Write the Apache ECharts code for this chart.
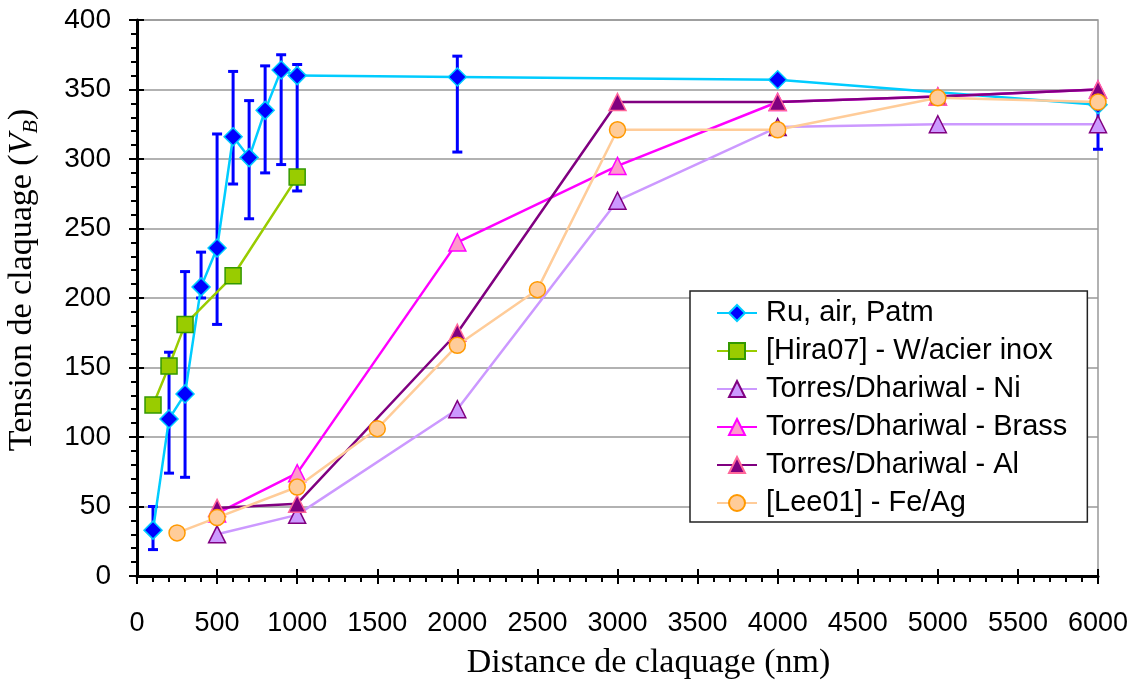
<!DOCTYPE html>
<html><head><meta charset="utf-8">
<script src="https://cdn.jsdelivr.net/npm/echarts@6/dist/echarts.min.js"></script>
<style>html,body{margin:0;padding:0;background:#fff}#c{width:1139px;height:682px}</style>
</head><body><div id="c"></div>
<script>
// ---- data ----
const xTicks = [0,500,1000,1500,2000,2500,3000,3500,4000,4500,5000,5500,6000];
const yTicks = [0,50,100,150,200,250,300,350,400];

const ruX = [100,200,300,400,500,600,700,800,900,1000,2000,4000,6000];
const ruY = [33,113,131,208,236,316,301,335,364,360,359,357,339];
const ruErrLow  = [19,74,71,200,181,282,257,290,296,277,305,null,307];
const ruErrHigh = [50,161,219,233,318,363,342,367,375,368,374,null,339];

const hiraX = [100,200,300,600,1000];
const hiraY = [123,151,181,216,287];

const niX = [500,1000,2000,3000,4000,5000,6000];
const niY = [30,44,120,270,323,325,325];

const brassX = [500,1000,2000,3000,4000,5000,6000];
const brassY = [45,74,240,295,341,345,350];

const alX = [500,1000,2000,3000,4000,5000,6000];
const alY = [49,52,175,341,341,345,350];

const leeX = [250,500,1000,1500,2000,2500,3000,4000,5000,6000];
const leeY = [31,42,64,106,166,206,321,321,344,341];

const names = ['Ru, air, Patm','[Hira07] - W/acier inox','Torres/Dhariwal - Ni','Torres/Dhariwal - Brass','Torres/Dhariwal - Al','[Lee01] - Fe/Ag'];

// ---- chart ----
const zip = (xs, ys) => xs.map((x, i) => [x, ys[i]]);
const errData = [];
ruX.forEach((x, i) => { if (ruErrLow[i] != null) errData.push([x, ruErrLow[i], ruErrHigh[i]]); });

function lineSeries(name, data, lineColor, fill, border, symbol, size, z) {
  return {
    name, type: 'line', data, z,
    symbol, symbolSize: size, showSymbol: true,
    lineStyle: { color: lineColor, width: 2.5 },
    itemStyle: { color: fill, borderColor: border, borderWidth: 1.5 },
    emphasis: { disabled: true }, animation: false
  };
}

const serif = '"Liberation Serif","Times New Roman",serif';
const sans = '"Liberation Sans",Arial,sans-serif';

const option = {
  animation: false,
  backgroundColor: '#fff',
  grid: { left: 137, right: 41, top: 20, bottom: 106, show: true, borderColor: '#999', borderWidth: 1.5,
    containLabel: false, outerBoundsMode: 'none' },
  xAxis: [{
    type: 'value', min: 0, max: 6000, interval: 500, position: 'bottom',
    axisLine: { show: true, onZero: false, lineStyle: { color: '#000', width: 3 } },
    axisTick: { show: true, length: 8, lineStyle: { color: '#000', width: 2 } },
    minorTick: { show: true, splitNumber: 5, length: 6, lineStyle: { color: '#000', width: 2 } },
    splitLine: { show: false },
    axisLabel: { margin: 34, fontSize: 27, color: '#000', fontFamily: sans,
      formatter: v => xTicks.includes(v) ? String(v) : '' },
    name: 'Distance de claquage (nm)', nameLocation: 'middle', nameGap: 70,
    nameTextStyle: { fontFamily: serif, fontSize: 34, color: '#000', padding: [0, 0, 0, 62] }
  }, {
    type: 'value', min: 0, max: 6000, interval: 500, position: 'bottom',
    axisLine: { show: false }, axisLabel: { show: false }, splitLine: { show: false },
    axisTick: { show: true, inside: true, length: 7, lineStyle: { color: '#000', width: 2 } }
  }],
  yAxis: [{
    type: 'value', min: 0, max: 400, interval: 50, position: 'left',
    axisLine: { show: true, onZero: false, lineStyle: { color: '#000', width: 3 } },
    axisTick: { show: true, length: 8, lineStyle: { color: '#000', width: 2 } },
    minorTick: { show: true, splitNumber: 5, length: 6, lineStyle: { color: '#000', width: 2 } },
    splitLine: { show: true, lineStyle: { color: '#999', width: 1.5 } },
    axisLabel: { margin: 26, fontSize: 28, color: '#000', fontFamily: sans,
      formatter: v => yTicks.includes(v) ? String(v) : '' },
    name: '{t|Tension de claquage (}{v|V}{b|B}{t|)}', nameLocation: 'middle', nameGap: 95,
    nameTextStyle: {
      color: '#000', padding: [0, 0, 0, 36],
      rich: {
        t: { fontFamily: serif, fontSize: 34, color: '#000', lineHeight: 40 },
        v: { fontFamily: serif, fontSize: 34, fontStyle: 'italic', color: '#000', lineHeight: 40 },
        b: { fontFamily: serif, fontSize: 22, fontStyle: 'italic', color: '#000', lineHeight: 40, verticalAlign: 'bottom', padding: [12, 0, 0, 0] }
      }
    }
  }, {
    type: 'value', min: 0, max: 400, interval: 50, position: 'left',
    axisLine: { show: false }, axisLabel: { show: false }, splitLine: { show: false },
    axisTick: { show: true, inside: true, length: 7, lineStyle: { color: '#000', width: 2 } }
  }],
  legend: {
    orient: 'vertical', left: 690, top: 291,
    backgroundColor: '#fff', borderColor: '#222', borderWidth: 1.5,
    padding: [7, 20, 4, 26], itemGap: 8, itemWidth: 40, itemHeight: 20,
    textStyle: { fontFamily: sans, fontSize: 29, color: '#000', lineHeight: 30, padding: [0, 0, 0, 4] },
    data: names
  },
  series: [
    {
      type: 'custom', name: 'err', data: errData, z: 1, silent: true, animation: false,
      renderItem: function (params, api) {
        const x = api.value(0);
        const lo = api.coord([x, api.value(1)]);
        const hi = api.coord([x, api.value(2)]);
        const w = 5;
        const st = { stroke: '#0000FF', lineWidth: 3 };
        return { type: 'group', children: [
          { type: 'line', shape: { x1: lo[0], y1: lo[1], x2: hi[0], y2: hi[1] }, style: st },
          { type: 'line', shape: { x1: lo[0] - w, y1: lo[1], x2: lo[0] + w, y2: lo[1] }, style: st },
          { type: 'line', shape: { x1: hi[0] - w, y1: hi[1], x2: hi[0] + w, y2: hi[1] }, style: st }
        ] };
      }
    },
    lineSeries(names[0], zip(ruX, ruY), '#00CCFF', '#0000FF', '#00CCFF', 'diamond', 18, 2),
    lineSeries(names[1], zip(hiraX, hiraY), '#99CC00', '#99CC00', '#339900', 'rect', 16, 3),
    lineSeries(names[2], zip(niX, niY), '#CC99FF', '#CC99FF', '#800080', 'triangle', 17, 4),
    lineSeries(names[3], zip(brassX, brassY), '#FF00FF', '#FF99CC', '#FF00FF', 'triangle', 17, 5),
    lineSeries(names[4], zip(alX, alY), '#800080', '#800080', '#FF6699', 'triangle', 17, 6),
    lineSeries(names[5], zip(leeX, leeY), '#FFCC99', '#FFCC99', '#FF9900', 'circle', 16, 7)
  ]
};

const chart = echarts.init(document.getElementById('c'), null, { renderer: 'canvas' });
chart.setOption(option);
</script>
</body></html>
